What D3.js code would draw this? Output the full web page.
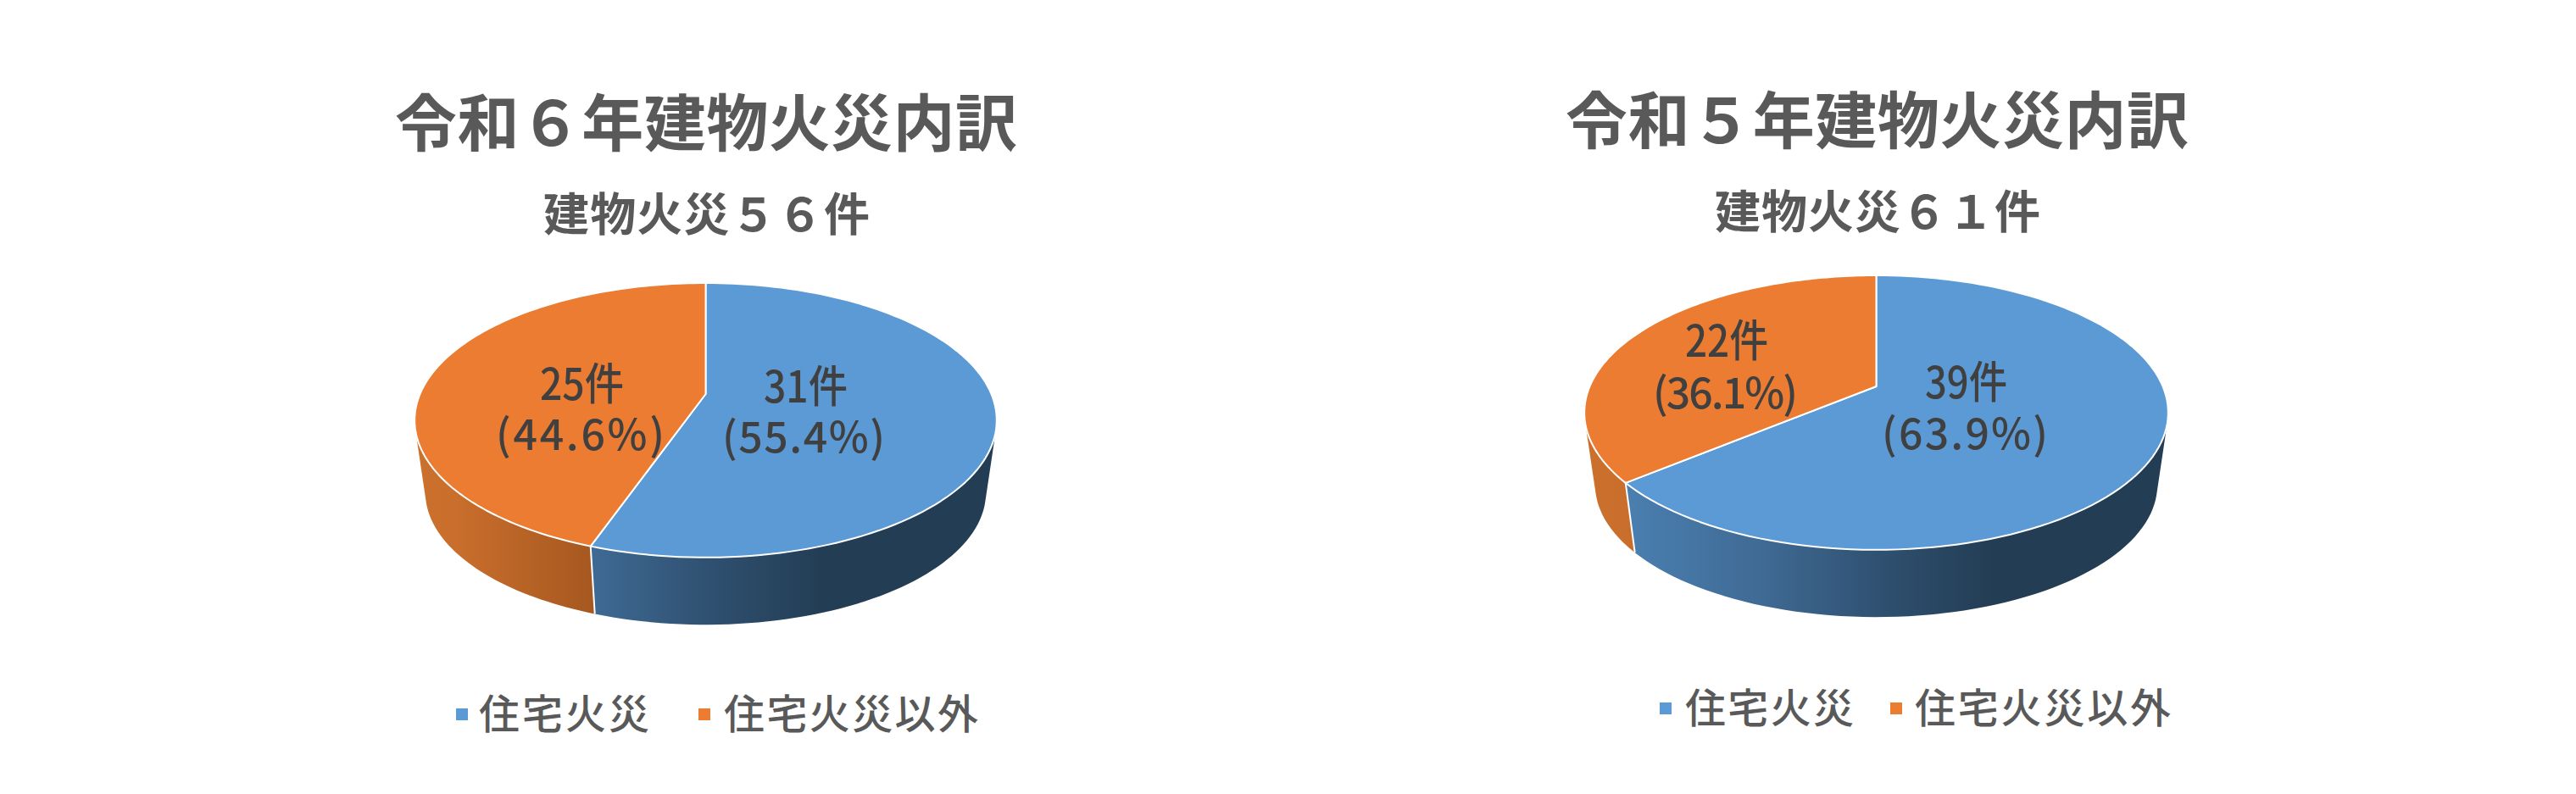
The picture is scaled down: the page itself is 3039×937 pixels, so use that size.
<!DOCTYPE html>
<html><head><meta charset="utf-8">
<script src="https://cdn.jsdelivr.net/npm/d3@7"></script>
<style>html,body{margin:0;padding:0;background:#fff}svg{display:block}</style>
</head><body><svg id="c" width="3039" height="937"></svg>
<script>
const categories = ["住宅火災","住宅火災以外"];
const valuesR6 = [31,25];
const valuesR5 = [39,22];
const percentR6 = ["(55.4%)","(44.6%)"];
const percentR5 = ["(63.9%)","(36.1%)"];
const titleR6 = "令和６年建物火災内訳";
const titleR5 = "令和５年建物火災内訳";
const subtitleR6 = "建物火災５６件";
const subtitleR5 = "建物火災６１件";

const topColors = ["#5b9ad5","#eb7c31"];
const FONT = "'Noto Sans CJK JP','Noto Sans CJK SC',sans-serif";
const svg = d3.select("#c");
const defs = svg.append("defs");

const layouts = [
 {id:"r6",values:valuesR6,pct:percentR6,title:titleR6,sub:subtitleR6,
  cx:832.5,cy:465,S:337,A:156,
  titleBox:[466,1200,172],subBox:[641,1026,273],
  countBox:[[901,1000,475],[637,736,472]],pctBox:[[852,1044,534],[585,784,531]],
  legendY:843,sq:[538,824],legText:[[565,766],[854,1154]]},
 {id:"r5",values:valuesR5,pct:percentR5,title:titleR5,sub:subtitleR5,
  cx:2213.5,cy:456,S:338,A:156,
  titleBox:[1847,2582,169],subBox:[2023,2407,270],
  countBox:[[2271,2368,470],[1988,2086,421]],pctBox:[[2220,2416,530],[1950,2121,482]],
  legendY:836,sq:[1958,2230],legText:[[1988,2187],[2259,2561]]}
];

const K = 0.191, WALL_SCALE = 0.963, WALL_DY = 86.5;

function put(x0,x1,y,str,size,weight,fill,adjust){
  return svg.append("text").attr("x",x0).attr("y",y)
    .attr("textLength",x1-x0).attr("lengthAdjust",adjust||"spacing")
    .attr("font-family",FONT).attr("font-size",size).attr("font-weight",weight)
    .attr("fill",fill).text(str);
}

layouts.forEach(L=>{
  const proj=(a,dy,sc)=>{
    const d=1+K*Math.cos(a);
    return [L.cx+L.S*sc*Math.sin(a)/d, L.cy+dy-L.A*sc*Math.cos(a)/d];
  };
  const x0=L.cx-L.S*1.02, x1=L.cx+L.S*1.02;
  const blue=defs.append("linearGradient").attr("id","wb"+L.id).attr("gradientUnits","userSpaceOnUse")
    .attr("x1",x0).attr("x2",x1).attr("y1",0).attr("y2",0);
  [[0,"#4f87ba"],[.073,"#4a7fb0"],[.306,"#3f6a94"],[.51,"#2f5070"],[.7,"#233d54"],[1,"#233d54"]]
    .forEach(s=>blue.append("stop").attr("offset",s[0]).attr("stop-color",s[1]));
  const or=defs.append("linearGradient").attr("id","wo"+L.id).attr("gradientUnits","userSpaceOnUse")
    .attr("x1",x0).attr("x2",x1).attr("y1",0).attr("y2",0);
  [[0,"#cc702c"],[.073,"#c96e2c"],[.306,"#a65820"],[1,"#8a4a1a"]]
    .forEach(s=>or.append("stop").attr("offset",s[0]).attr("stop-color",s[1]));

  const arcs=d3.pie().sort(null)(L.values);
  const line=d3.line();
  const samples=(a0,a1)=>d3.range(0,121).map(i=>a0+(a1-a0)*i/120);
  const g=svg.append("g");

  // side walls: every quad gets the same winding, so the fill is their union
  arcs.forEach((d,i)=>{
    const t=samples(d.startAngle,d.endAngle);
    let path="";
    d3.pairs(t).forEach(([a,b])=>{
      const q=[proj(a,0,1),proj(b,0,1),proj(b,WALL_DY,WALL_SCALE),proj(a,WALL_DY,WALL_SCALE)];
      if(d3.polygonArea(q)<0) q.reverse();
      path+=line(q)+"Z";
    });
    g.append("path").attr("d",path).attr("fill",`url(#${i==0?"wb":"wo"}${L.id})`);
  });
  // seams on the visible wall
  arcs.forEach(d=>{
    if(Math.cos(d.endAngle)<0 && d.endAngle<2*Math.PI-0.01){
      g.append("path").attr("d",line([proj(d.endAngle,0,1),proj(d.endAngle,WALL_DY,WALL_SCALE)]))
        .attr("stroke","#fff").attr("stroke-width",2).attr("fill","none");
    }
  });
  // top faces
  arcs.forEach((d,i)=>{
    const pts=[[L.cx,L.cy]].concat(samples(d.startAngle,d.endAngle).map(a=>proj(a,0,1)));
    g.append("path").attr("d",line(pts)+"Z").attr("fill",topColors[i])
      .attr("stroke","#fff").attr("stroke-width",2).attr("stroke-linejoin","round");
  });

  put(L.titleBox[0],L.titleBox[1],L.titleBox[2],L.title,73,700,"#595959");
  put(L.subBox[0],L.subBox[1],L.subBox[2],L.sub,54,700,"#595959");
  L.values.forEach((v,i)=>{
    put(L.countBox[i][0],L.countBox[i][1],L.countBox[i][2],v+"件",52,500,"#404040","spacingAndGlyphs");
    put(L.pctBox[i][0],L.pctBox[i][1],L.pctBox[i][2],L.pct[i],50,500,"#404040");
  });
  categories.forEach((c,i)=>{
    svg.append("rect").attr("x",L.sq[i]).attr("y",L.legendY-7).attr("width",14).attr("height",14).attr("fill",topColors[i]);
    put(L.legText[i][0],L.legText[i][1],L.legendY+17,c,48,500,"#595959");
  });
});
</script></body></html>
